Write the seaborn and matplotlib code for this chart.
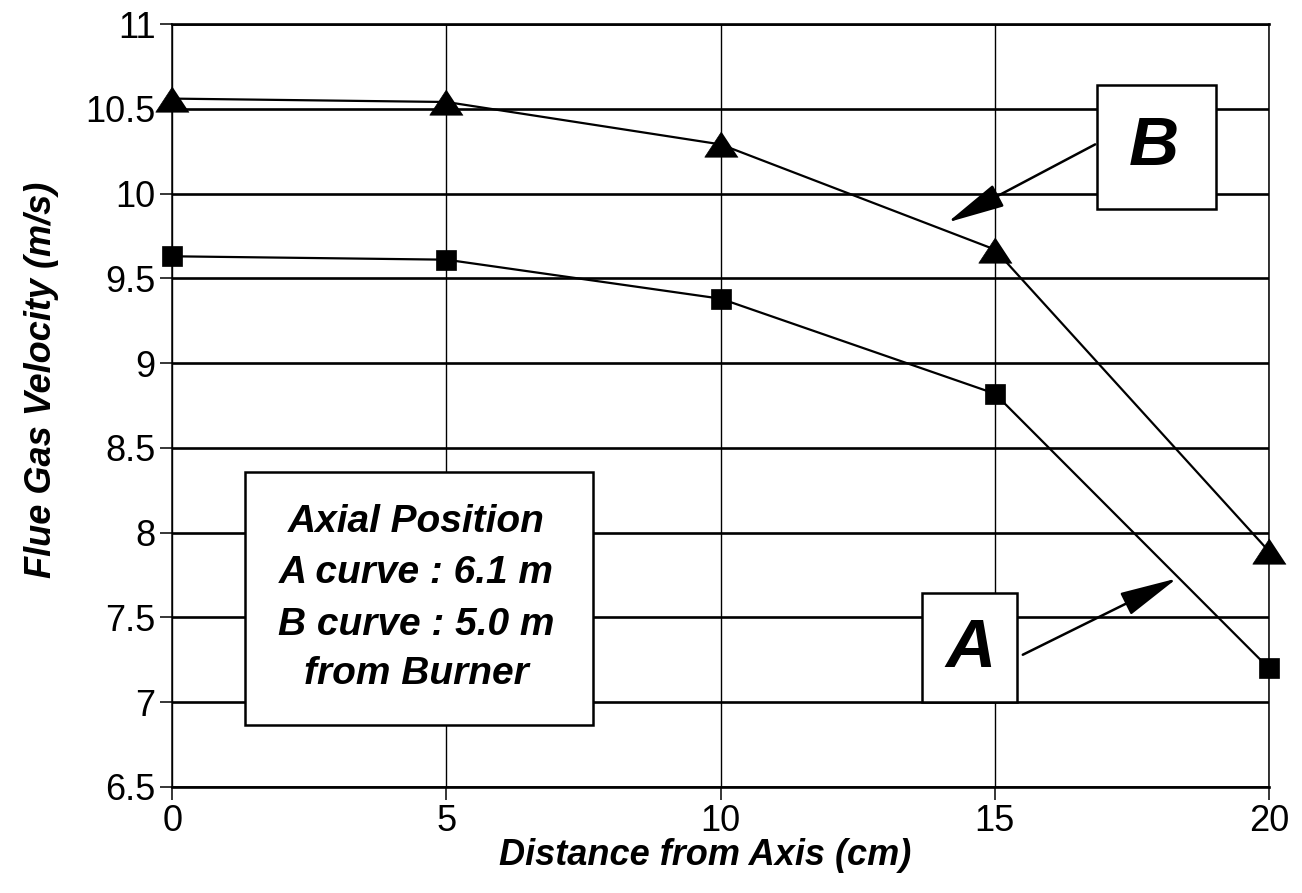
import matplotlib
matplotlib.use("Agg")
import matplotlib.pyplot as plt
from matplotlib.patches import Rectangle
import seaborn as sns
import pandas as pd

# Radial profile of flue gas velocity at two axial positions
distance = [0, 5, 10, 15, 20]
velocity_a = [9.63, 9.61, 9.38, 8.82, 7.20]
velocity_b = [10.56, 10.54, 10.29, 9.67, 7.89]

x_ticks = [0, 5, 10, 15, 20]
y_ticks = [6.5, 7, 7.5, 8, 8.5, 9, 9.5, 10, 10.5, 11]
y_tick_labels = ["6.5", "7", "7.5", "8", "8.5", "9", "9.5", "10", "10.5", "11"]

note_lines = ["Axial Position", "A curve : 6.1 m", "B curve : 5.0 m", "from Burner"]

sns.set_style("white")
plt.rcParams["font.family"] = ["Liberation Sans", "DejaVu Sans"]
plt.rcParams["text.color"] = "black"
plt.rcParams["axes.labelcolor"] = "black"
plt.rcParams["xtick.color"] = "black"
plt.rcParams["ytick.color"] = "black"

df_a = pd.DataFrame({"distance": distance, "velocity": velocity_a})
df_b = pd.DataFrame({"distance": distance, "velocity": velocity_b})

fig = plt.figure(figsize=(13.02, 8.93), dpi=100)
ax = fig.add_axes([172.3 / 1302, 1 - 787 / 893, 1096.7 / 1302, 763 / 893])

# flattened triangle marker
tri = [(0, 0.76), (-1, -0.76), (1, -0.76)]

sns.lineplot(data=df_a, x="distance", y="velocity", ax=ax, color="black",
             lw=1.6, marker="s", markersize=14.5, markeredgecolor="black",
             markerfacecolor="black", markeredgewidth=0.5, zorder=5,
             clip_on=False)
sns.lineplot(data=df_b, x="distance", y="velocity", ax=ax, color="black",
             lw=1.6, marker=tri, markersize=24, markeredgecolor="black",
             markerfacecolor="black", markeredgewidth=0.5, zorder=5,
             clip_on=False)

ax.set_xlim(0, 20)
ax.set_ylim(6.5, 11)
ax.set_xticks(x_ticks)
ax.set_xticklabels([str(t) for t in x_ticks])
ax.set_yticks(y_ticks)
ax.set_yticklabels(y_tick_labels)

# grid: heavier horizontal rules, light vertical rules
for yv in y_ticks:
    ax.axhline(yv, color="black", lw=1.9, zorder=1)
for xv in x_ticks:
    ax.axvline(xv, color="black", lw=1.0, zorder=1)

for side in ["left", "right"]:
    ax.spines[side].set_linewidth(1.1)
for side in ["top", "bottom"]:
    ax.spines[side].set_linewidth(1.9)
for sp in ax.spines.values():
    sp.set_color("black")
    sp.set_zorder(6)

ax.tick_params(axis="both", direction="out", length=9, width=1.1,
               colors="black", labelsize=26, pad=3)
ax.tick_params(axis="y", left=True)
ax.tick_params(axis="x", bottom=True)

ax.set_xlabel("Distance from Axis (cm)", fontsize=26, fontweight="bold",
              fontstyle="italic")
ax.xaxis.set_label_coords(0.486, -0.090)
ax.xaxis.label.set_va("center")
ax.set_ylabel("Flue Gas Velocity (m/s)", fontsize=26, fontweight="bold",
              fontstyle="italic")
ax.yaxis.set_label_coords(-0.119, 0.533)
ax.yaxis.label.set_va("center")

# note box
ax.add_patch(Rectangle((1.33, 6.865), 7.67 - 1.33, 8.358 - 6.865,
                       facecolor="white", edgecolor="black", lw=1.8, zorder=3))
for line, yb in zip(note_lines, [8.005, 7.704, 7.397, 7.108]):
    ax.text(4.45, yb, line, ha="center", va="baseline", fontsize=28,
            fontweight="bold", fontstyle="italic", zorder=4)

# curve labels
ax.add_patch(Rectangle((16.86, 9.909), 19.03 - 16.86, 10.640 - 9.909,
                       facecolor="white", edgecolor="black", lw=1.8, zorder=3))
ax.text(17.9, 10.169, "B", ha="center", va="baseline", fontsize=50,
        fontweight="bold", fontstyle="italic", zorder=4)
ax.add_patch(Rectangle((13.67, 7.0), 15.40 - 13.67, 7.645 - 7.0,
                       facecolor="white", edgecolor="black", lw=1.8, zorder=3))
ax.text(14.55, 7.209, "A", ha="center", va="baseline", fontsize=50,
        fontweight="bold", fontstyle="italic", zorder=4)

arrow_kw = dict(arrowstyle="-|>,head_length=1.8,head_width=0.38",
                color="black", lw=1.8, mutation_scale=20,
                shrinkA=0, shrinkB=0)
ax.annotate("", xy=(14.14, 9.83), xytext=(16.83, 10.29),
            arrowprops=arrow_kw, zorder=7)
ax.annotate("", xy=(18.32, 7.73), xytext=(15.51, 7.28),
            arrowprops=arrow_kw, zorder=7)

fig.savefig("out.png", dpi=100)
